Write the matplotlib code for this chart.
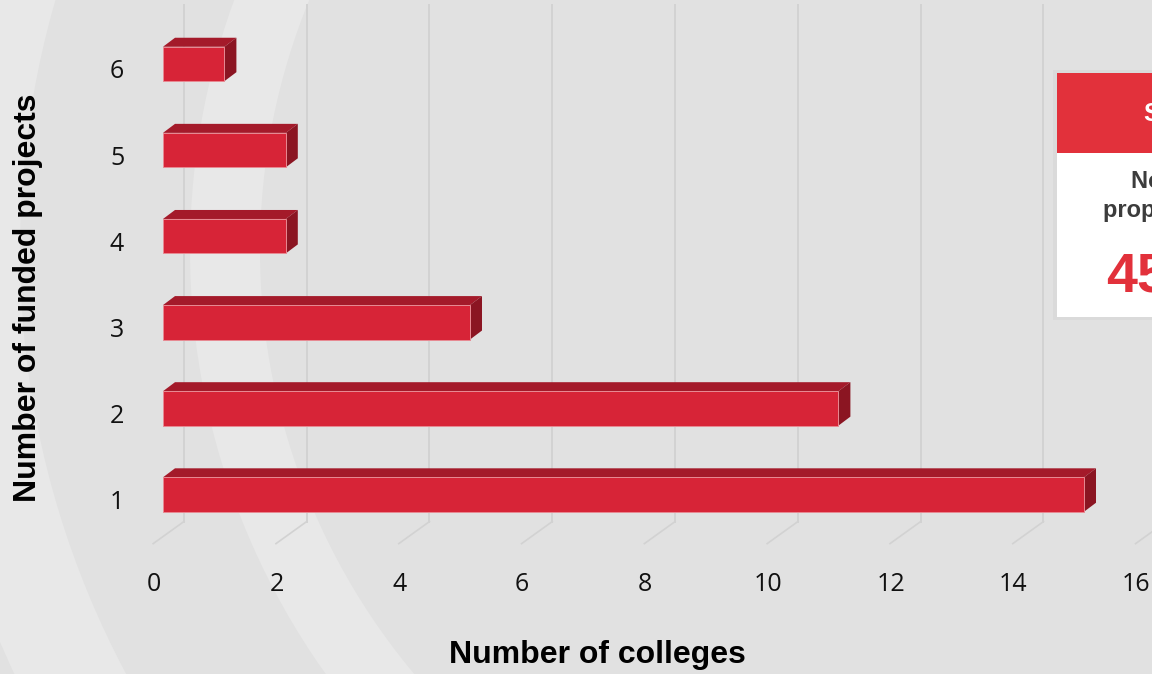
import matplotlib
matplotlib.use("Agg")
import matplotlib.pyplot as plt
from matplotlib.patches import Polygon, Rectangle, Wedge

# data
projects = [1, 2, 3, 4, 5, 6]
colleges = [15, 11, 5, 2, 2, 1]
x_ticks = [0, 2, 4, 6, 8, 10, 12, 14, 16]
box_header = "Summary"
box_lines = ["No. of funded", "proposals submitted"]
box_value = "45"

BG = "#e1e1e1"
BAND = "#e8e8e8"
FRONT = "#d72437"
TOP = "#a41a2a"
SIDE = "#8b1522"
GRID = "#d2d2d2"
BOX_RED = "#e2313b"

fig = plt.figure(figsize=(11.52, 6.74), dpi=100)
fig.patch.set_facecolor(BG)

# background decoration (pixel space)
bg = fig.add_axes([0, 0, 1, 1], zorder=0)
bg.set_xlim(0, 1152)
bg.set_ylim(674, 0)
bg.axis("off")
for r_out, w in [(730, 70), (1000, 100)]:
    bg.add_patch(Wedge((920, 250), r_out, 90, 270, width=w,
                       facecolor=BAND, edgecolor="none"))

# main axes = front plane of the 3d chart
ax = fig.add_axes([163 / 1152, 1 - 546.2 / 674, 982.4 / 1152,
                   (546.2 - 12.3) / 674], zorder=1)
ax.set_xlim(0, 16)
ax.set_ylim(0.4, 6.6)
ax.axis("off")
ax.patch.set_alpha(0)

# depth offsets in data units
DX, DY = 12 / 61.4, 9 / 86.1
FLOOR_Y = 0.43
FLOOR_FRONT = -0.16
WALL_DX, WALL_DY = 0.34, 0.256
WALL_TOP = 6.69

for v in x_ticks:
    ax.plot([v + FLOOR_FRONT, v + WALL_DX], [FLOOR_Y, FLOOR_Y + WALL_DY],
            color=GRID, lw=1.2, clip_on=False, zorder=1)
    ax.plot([v + WALL_DX, v + WALL_DX], [FLOOR_Y + WALL_DY, WALL_TOP],
            color=GRID, lw=1.4, clip_on=False, zorder=1)
    ax.text(v - 0.15, -0.05, str(v), ha="center", va="center",
            fontsize=18, family="Open Sans", color="#111111", clip_on=False)

h = 0.4
for k, c in zip(projects, colleges):
    y0, y1 = k - h / 2, k + h / 2
    ax.add_patch(Polygon([(0, y1), (c, y1), (c + DX, y1 + DY), (DX, y1 + DY)],
                         closed=True, facecolor=TOP, edgecolor="none", zorder=3))
    ax.add_patch(Polygon([(c, y0), (c + DX, y0 + DY), (c + DX, y1 + DY), (c, y1)],
                         closed=True, facecolor=SIDE, edgecolor="none", zorder=3))
    ax.add_patch(Rectangle((0, y0), c, h, facecolor=FRONT,
                           edgecolor="#e88a93", lw=0.7, zorder=4))
    ax.text(-0.749, k - 0.093, str(k), ha="center", va="center",
            fontsize=18, family="Open Sans", color="#111111", clip_on=False)

fig.text(597 / 1152, 1 - 655 / 674, "Number of colleges", ha="center",
         va="center", fontsize=23, fontweight="bold", family="Liberation Sans")
fig.text(28 / 1152, 1 - 298 / 674, "Number of funded projects", ha="center",
         va="center", rotation=90, fontsize=23, fontweight="bold",
         family="Liberation Sans")

# summary box on the right (cut by the figure edge, as in the source)
bg.add_patch(Rectangle((1053, 70), 220, 250, facecolor="#dadada",
                       edgecolor="none", zorder=2))
bg.add_patch(Rectangle((1057, 73), 220, 244, facecolor="white",
                       edgecolor="none", zorder=3))
bg.add_patch(Rectangle((1057, 73), 220, 80, facecolor=BOX_RED,
                       edgecolor="none", zorder=4))
bg.text(1143, 114, box_header, ha="left", va="center", color="white",
        fontsize=18, fontweight="bold", family="Liberation Sans", zorder=5)
bg.text(1131, 181, box_lines[0], ha="left", va="center", color="#3c3c3c",
        fontsize=17, fontweight="bold", family="Liberation Sans", zorder=5)
bg.text(1103, 211, box_lines[1], ha="left", va="center", color="#3c3c3c",
        fontsize=17, fontweight="bold", family="Liberation Sans", zorder=5)
bg.text(1106, 278, box_value, ha="left", va="center", color=BOX_RED,
        fontsize=40, fontweight="bold", family="Liberation Sans", zorder=5)

fig.savefig("out.png", dpi=100, facecolor=BG)
